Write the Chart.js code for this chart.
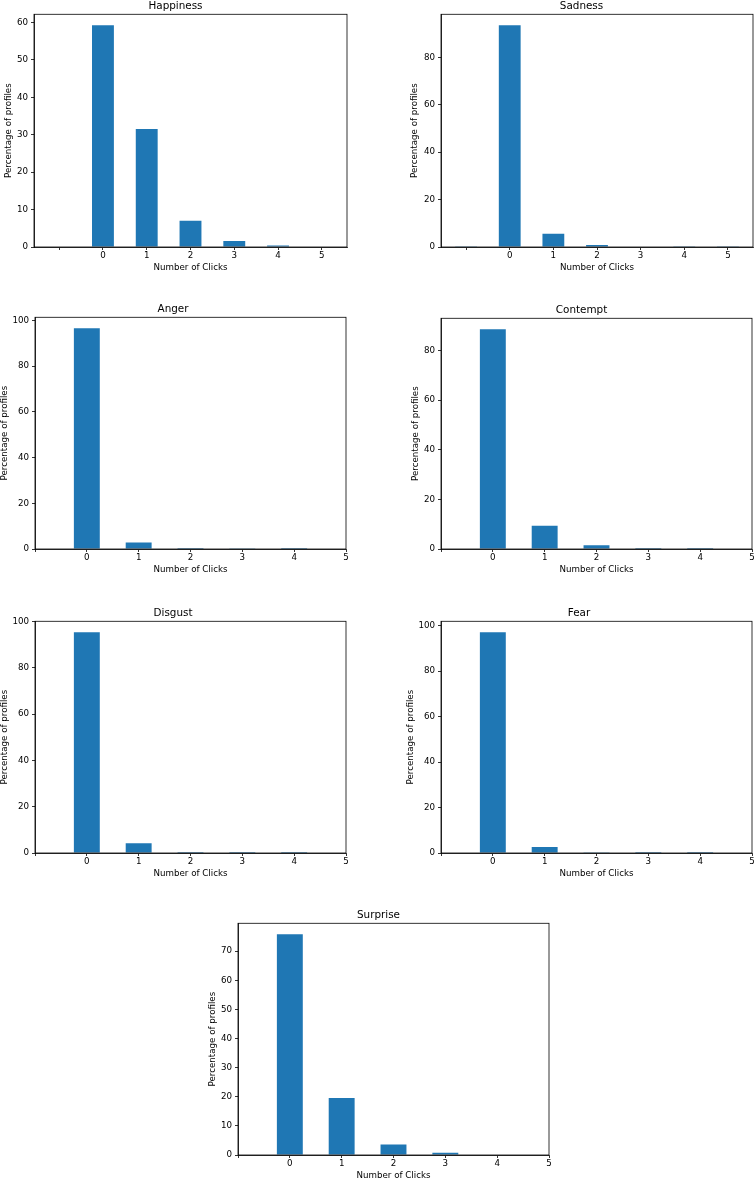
<!DOCTYPE html>
<html>
<head>
<meta charset="utf-8">
<script src="https://cdn.jsdelivr.net/npm/chart.js@4.4.1/dist/chart.umd.min.js"></script>
<style>
  html, body { margin: 0; padding: 0; background: #fff; }
  body { position: relative; width: 755px; height: 1181px; overflow: hidden; }
  .panel { position: absolute; }
  .panel canvas { display: block; }
</style>
</head>
<body>
<script>
// Click counts on the x axis
const clicksWide = [-1, 0, 1, 2, 3, 4, 5];
const clicksNarrow = [0, 1, 2, 3, 4];
const tickValues = [-1, 0, 1, 2, 3, 4, 5];
const tickLabels = ['', '0', '1', '2', '3', '4', '5'];

// Percentage of profiles per click count
const happinessPct = [0.15, 59.2, 31.5, 7.0, 1.6, 0.4, 0.15];
const sadnessPct = [0.15, 93.5, 5.6, 0.8, 0.2, 0.1, 0.1];
const angerPct = [96.6, 2.8, 0.4, 0.1, 0.05];
const contemptPct = [88.6, 9.4, 1.5, 0.4, 0.05];
const disgustPct = [95.3, 4.2, 0.4, 0.05, 0.02];
const fearPct = [97.1, 2.6, 0.3, 0.05, 0.02];
const surprisePct = [75.8, 19.6, 3.6, 0.8, 0.2];

const titles = ['Happiness', 'Sadness', 'Anger', 'Contempt', 'Disgust', 'Fear', 'Surprise'];
const yStep = [10, 20, 20, 20, 20, 20, 10];

// frame box of each axes in the page: left, top, width, height, y-axis width
const panels = [
  { title: titles[0], x: clicksWide, y: happinessPct, step: yStep[0], xmin: -1.575, xmax: 5.575, box: [34, 14, 313, 233, 30] },
  { title: titles[1], x: clicksWide, y: sadnessPct, step: yStep[1], xmin: -1.575, xmax: 5.575, box: [441, 14, 312, 233, 31] },
  { title: titles[2], x: clicksNarrow, y: angerPct, step: yStep[2], xmin: -1, xmax: 5, box: [35, 317, 311, 232, 35] },
  { title: titles[3], x: clicksNarrow, y: contemptPct, step: yStep[3], xmin: -1, xmax: 5, box: [441, 318, 311, 231, 30] },
  { title: titles[4], x: clicksNarrow, y: disgustPct, step: yStep[4], xmin: -1, xmax: 5, box: [35, 621, 311, 232, 35] },
  { title: titles[5], x: clicksNarrow, y: fearPct, step: yStep[5], xmin: -1, xmax: 5, box: [441, 621, 311, 232, 35] },
  { title: titles[6], x: clicksNarrow, y: surprisePct, step: yStep[6], xmin: -1, xmax: 5, box: [238, 923, 311, 232, 30] },
];

const FONT = 'DejaVu Sans';
const TITLE_PAD = { top: 3, bottom: 1.8 };
const TITLE_SIZE = 10.4;
const TH = TITLE_PAD.top + TITLE_SIZE * 1.2 + TITLE_PAD.bottom;
const XH = 26;

// draw the four spines like matplotlib
const framePlugin = {
  id: 'frame',
  afterDatasetsDraw(chart) {
    const { ctx, chartArea: a } = chart;
    ctx.save();
    ctx.strokeStyle = '#000';
    ctx.lineWidth = 0.8;
    ctx.strokeRect(a.left, a.top, a.right - a.left, a.bottom - a.top);
    ctx.restore();
  }
};

panels.forEach(p => {
  const [L, T, W, H, YW] = p.box;
  const div = document.createElement('div');
  div.className = 'panel';
  div.style.left = (L - YW) + 'px';
  div.style.top = (T - TH) + 'px';
  const canvas = document.createElement('canvas');
  canvas.width = YW + W + YW;
  canvas.height = Math.round(TH + H + XH);
  div.appendChild(canvas);
  document.body.appendChild(div);

  const ymax = Math.max(...p.y) * 1.05;

  new Chart(canvas, {
    type: 'bar',
    data: {
      datasets: [{
        data: p.x.map((v, i) => ({ x: v, y: p.y[i] })),
        backgroundColor: '#1f77b4',
        borderWidth: 0,
        barPercentage: 0.5,
        categoryPercentage: 1.0,
      }],
    },
    options: {
      responsive: false,
      animation: false,
      layout: { padding: { left: 0, right: YW, top: 0, bottom: 0 } },
      plugins: {
        legend: { display: false },
        tooltip: { enabled: false },
        title: {
          display: true,
          text: p.title,
          color: '#000',
          font: { family: FONT, size: TITLE_SIZE, weight: 'normal' },
          padding: TITLE_PAD,
        },
      },
      scales: {
        x: {
          type: 'linear',
          min: p.xmin,
          max: p.xmax,
          offset: false,
          afterBuildTicks: s => { s.ticks = tickValues.map(v => ({ value: v })); },
          afterFit: s => { s.height = XH; },
          ticks: {
            color: '#000',
            font: { family: FONT, size: 8.7 },
            padding: 1,
            maxRotation: 0,
            autoSkip: false,
            callback: v => tickLabels[tickValues.indexOf(v)],
          },
          grid: { offset: false, drawOnChartArea: false, drawTicks: true, tickLength: 3, color: '#000', lineWidth: 0.8 },
          border: { display: true, color: '#000', width: 0.8 },
          title: {
            display: true,
            text: 'Number of Clicks',
            color: '#000',
            font: { family: FONT, size: 8.7 },
            padding: { top: 0, bottom: 0 },
          },
        },
        y: {
          type: 'linear',
          min: 0,
          max: ymax,
          afterBuildTicks: s => {
            const t = [];
            for (let v = 0; v <= ymax; v += p.step) t.push({ value: v });
            s.ticks = t;
          },
          afterFit: s => { s.width = YW; },
          ticks: {
            color: '#000',
            font: { family: FONT, size: 8.7 },
            padding: 3,
          },
          grid: { offset: false, drawOnChartArea: false, drawTicks: true, tickLength: 3, color: '#000', lineWidth: 0.8 },
          border: { display: true, color: '#000', width: 0.8 },
          title: {
            display: true,
            text: 'Percentage of profiles',
            color: '#000',
            font: { family: FONT, size: 8.7 },
            padding: { top: 0, bottom: 0 },
          },
        },
      },
    },
    plugins: [framePlugin],
  });
});
</script>
</body>
</html>
